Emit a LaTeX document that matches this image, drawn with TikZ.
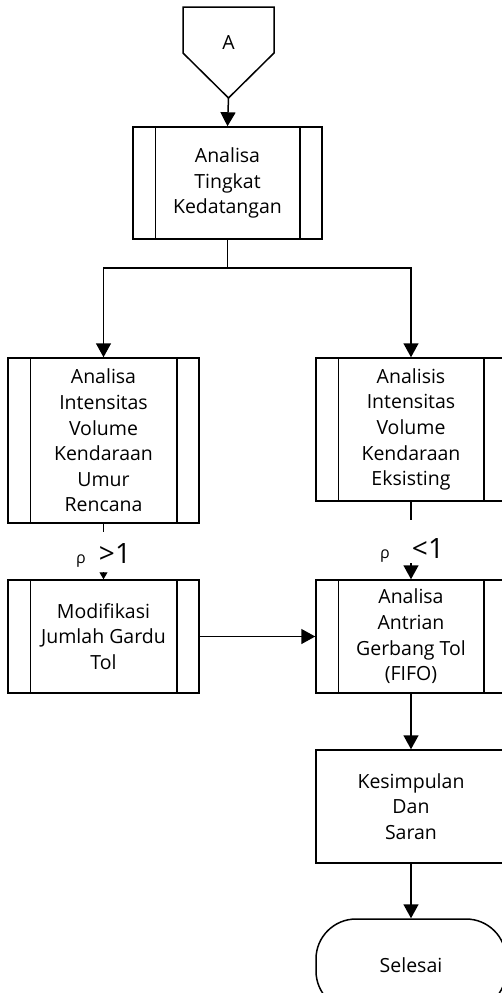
\documentclass[tikz,border=0pt]{standalone}
\usepackage{fontspec}
\setmainfont{Open Sans}
\usetikzlibrary{arrows.meta}
\begin{document}
\begin{tikzpicture}[x=1pt,y=-1pt,
  ln/.style={line width=1.5pt},
  box/.style={draw,line width=1.5pt,align=center,inner sep=0pt,
    font=\fontsize{19.5}{25.6}\selectfont},
  arr/.style={ln,-{Triangle[length=14pt,width=15pt]}},
  arrsmall/.style={line width=1pt,-{Triangle[length=7pt,width=8pt]}},
  rho/.style={inner sep=0pt,anchor=base}
]
\useasboundingbox (0,0) rectangle (502,993);

% off-page connector
\draw[ln] (183,7) -- (274,7) -- (274,53) -- (228.5,98) -- (183,53) -- cycle;
\node[font=\fontsize{19.5}{22}\selectfont] (A) at (228.5,43) {A};
\coordinate (Atip) at (228.5,98);

% boxes
\node[box,minimum width=189,minimum height=112] (b1) at (227.5,183) {Analisa\\Tingkat\\Kedatangan};
\node[box,minimum width=191,minimum height=165] (b2) at (103.5,440.5) {Analisa\\Intensitas\\Volume\\Kendaraan\\Umur\\Rencana};
\node[box,minimum width=190,minimum height=143] (b3) at (411,429.5) {Analisis\\Intensitas\\Volume\\Kendaraan\\Eksisting};
\node[box,minimum width=191,minimum height=113] (b4) at (103.5,636.5) {Modifikasi\\Jumlah Gardu\\Tol};
\node[box,minimum width=190,minimum height=113] (b5) at (411,636.5) {Analisa\\Antrian\\Gerbang Tol\\(FIFO)};
\node[box,minimum width=190,minimum height=113] (b6) at (411,806.5) {Kesimpulan\\Dan\\Saran};
\node[box,minimum width=190,minimum height=92,rounded corners=40pt] (end) at (411,965) {Selesai};

% inner vertical lines of predefined-process boxes
\foreach \n in {b1,b2,b3,b4,b5}{
  \draw[ln] ([xshift=23pt]\n.north west) -- ([xshift=23pt]\n.south west);
  \draw[ln] ([xshift=-23pt]\n.north east) -- ([xshift=-23pt]\n.south east);
}

% connectors
\draw[arr] (Atip) -- (b1.north);
\coordinate (split) at (227.5,268);
\draw[ln] (b1.south) -- (split);
\draw[arr] (split) -| (b2.north);
\draw[arr] (split) -| (b3.north);

\coordinate (c2a) at (103.5,532);
\coordinate (c2b) at (103.5,572);
\draw[ln] (b2.south) -- (c2a);
\draw[arrsmall] (c2b) -- (b4.north);
\node[rho,font=\fontsize{16}{16}\selectfont] (r1) at (81,563) {ρ};
\node[rho,font=\fontsize{28}{28}\selectfont] (g1) at (115,563) {>1};

\coordinate (c3a) at (411,520);
\coordinate (c3b) at (411,563);
\draw[ln] (b3.south) -- (c3a);
\draw[arr] (c3b) -- (b5.north);
\node[rho,font=\fontsize{16}{16}\selectfont] (r2) at (385,558) {ρ};
\node[rho,font=\fontsize{28}{28}\selectfont] (l1) at (428,558) {<1};

\draw[arr] (b4.east) -- (b5.west);
\draw[arr] (b5.south) -- (b6.north);
\draw[arr] (b6.south) -- (end.north);
\end{tikzpicture}
\end{document}
